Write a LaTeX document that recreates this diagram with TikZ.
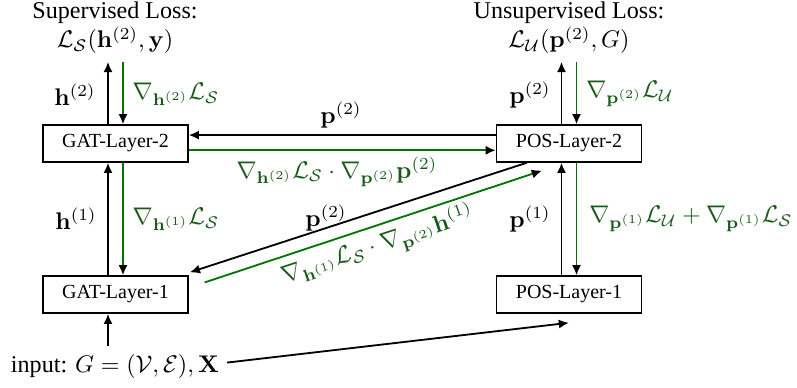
\RequirePackage{fix-cm}
\documentclass[tikz,border=0pt]{standalone}
\usepackage[no-math]{fontspec}
\setmainfont{Liberation Serif}
\usepackage{amsmath}
\usetikzlibrary{arrows.meta,calc}
\definecolor{gr}{RGB}{0,115,0}
\definecolor{grt}{RGB}{25,90,25}
\begin{document}
\begin{tikzpicture}[x=0.44pt,y=-0.44pt,
  every node/.style={font=\fontsize{10.6}{12.7}\selectfont},
  box/.style={draw,line width=0.6pt,minimum width=63.8pt,minimum height=16.3pt,inner sep=0pt,font=\fontsize{8.8}{10}\selectfont},
  fw/.style={line width=0.8pt,-{Latex[length=4.5pt,width=4pt,color=black]}},
  bw/.style={fw,draw=gr},
  lbl/.style={inner sep=1pt},
  glbl/.style={lbl,text=grt}]
\useasboundingbox (0,0) rectangle (797,388);
% boxes
\node[box] (g2) at (115.5,143.5) {GAT-Layer-2};
\node[box] (p2) at (569,143.5) {POS-Layer-2};
\node[box] (g1) at (115.5,294.5) {GAT-Layer-1};
\node[box] (p1) at (569,294.5) {POS-Layer-1};
\node[align=center] (ls) at (115,28) {Supervised Loss:\\$\mathcal{L}_{\mathcal{S}}(\mathbf{h}^{(2)},\mathbf{y})$};
\node[align=center] (lu) at (569,28) {Unsupervised Loss:\\$\mathcal{L}_{\mathcal{U}}(\mathbf{p}^{(2)},G)$};
\node (in) at (115,366) {input: $G=(\mathcal{V},\mathcal{E}),\mathbf{X}$};
% anchor coordinates
\coordinate (g2na) at ([xshift=-3.3pt]g2.north);
\coordinate (g2nb) at ([xshift=3.3pt]g2.north);
\coordinate (g2sa) at ([xshift=-3.3pt]g2.south);
\coordinate (g2sb) at ([xshift=3.3pt]g2.south);
\coordinate (g1na) at ([xshift=-3.3pt]g1.north);
\coordinate (g1nb) at ([xshift=3.3pt]g1.north);
\coordinate (g1sa) at ([xshift=-3.3pt]g1.south);
\coordinate (p2na) at ([xshift=-3.3pt]p2.north);
\coordinate (p2nb) at ([xshift=3.3pt]p2.north);
\coordinate (p2sa) at ([xshift=-3.3pt]p2.south);
\coordinate (p2sb) at ([xshift=3.3pt]p2.south);
\coordinate (p1na) at ([xshift=-3.3pt]p1.north);
\coordinate (p1nb) at ([xshift=3.3pt]p1.north);
% vertical arrows GAT
\draw[fw] (g2na) -- (g2na |- ls.south);
\draw[bw] (g2nb |- ls.south) -- (g2nb);
\draw[fw] (g1na) -- (g2sa);
\draw[bw] (g2sb) -- (g1nb);
\draw[fw] (g1sa |- in.north) -- (g1sa);
% vertical arrows POS
\draw[fw] (p2na) -- (p2na |- lu.south);
\draw[bw] (p2nb |- lu.south) -- (p2nb);
\draw[fw] (p1na) -- (p2sa);
\draw[bw] (p2sb) -- (p1nb);
% horizontal
\coordinate (hb) at ([yshift=3.7pt]p2.west);
\coordinate (hg) at ([yshift=-3pt]g2.east);
\draw[fw] (hb) -- (hb -| g2.east);
\draw[bw] (hg) -- (hg -| p2.west);
% diagonal
\coordinate (db1) at ([xshift=-18.5pt]p2.south);
\coordinate (db2) at ([xshift=0.5pt,yshift=1.3pt]g1.north east);
\coordinate (dg1) at ([xshift=7pt,yshift=5.3pt]g1.east);
\coordinate (dg2) at ([xshift=-11.9pt,yshift=-3.5pt]p2.south);
\draw[fw] (db1) -- (db2);
\draw[bw] (dg1) -- (dg2);
% input to POS-Layer-1
\draw[fw] ([yshift=1.5pt]in.east) -- ([yshift=-4pt]p1.south);
% labels
\node[lbl] (l1) at (75,95) {$\mathbf{h}^{(2)}$};
\node[glbl] (l2) at (176,94) {$\nabla_{\mathbf{h}^{(2)}}\mathcal{L}_{\mathcal{S}}$};
\node[lbl] (l3) at (76,219) {$\mathbf{h}^{(1)}$};
\node[glbl] (l4) at (176,219) {$\nabla_{\mathbf{h}^{(1)}}\mathcal{L}_{\mathcal{S}}$};
\node[lbl] (l5) at (530,95) {$\mathbf{p}^{(2)}$};
\node[glbl] (l6) at (630,94) {$\nabla_{\mathbf{p}^{(2)}}\mathcal{L}_{\mathcal{U}}$};
\node[lbl] (l7) at (530,219) {$\mathbf{p}^{(1)}$};
\node[glbl] (l8) at (691,219) {$\nabla_{\mathbf{p}^{(1)}}\mathcal{L}_{\mathcal{U}}+\nabla_{\mathbf{p}^{(1)}}\mathcal{L}_{\mathcal{S}}$};
\node[lbl] (l9) at (341,115) {$\mathbf{p}^{(2)}$};
\node[glbl] (l10) at (337,172) {$\nabla_{\mathbf{h}^{(2)}}\mathcal{L}_{\mathcal{S}}\cdot\nabla_{\mathbf{p}^{(2)}}\mathbf{p}^{(2)}$};
\node[lbl] (l11) at (326,218) {$\mathbf{p}^{(2)}$};
\node[glbl,rotate=18.3] (l12) at (378,246) {$\nabla_{\mathbf{h}^{(1)}}\mathcal{L}_{\mathcal{S}}\cdot\nabla_{\mathbf{p}^{(2)}}\mathbf{h}^{(1)}$};
\end{tikzpicture}
\end{document}
